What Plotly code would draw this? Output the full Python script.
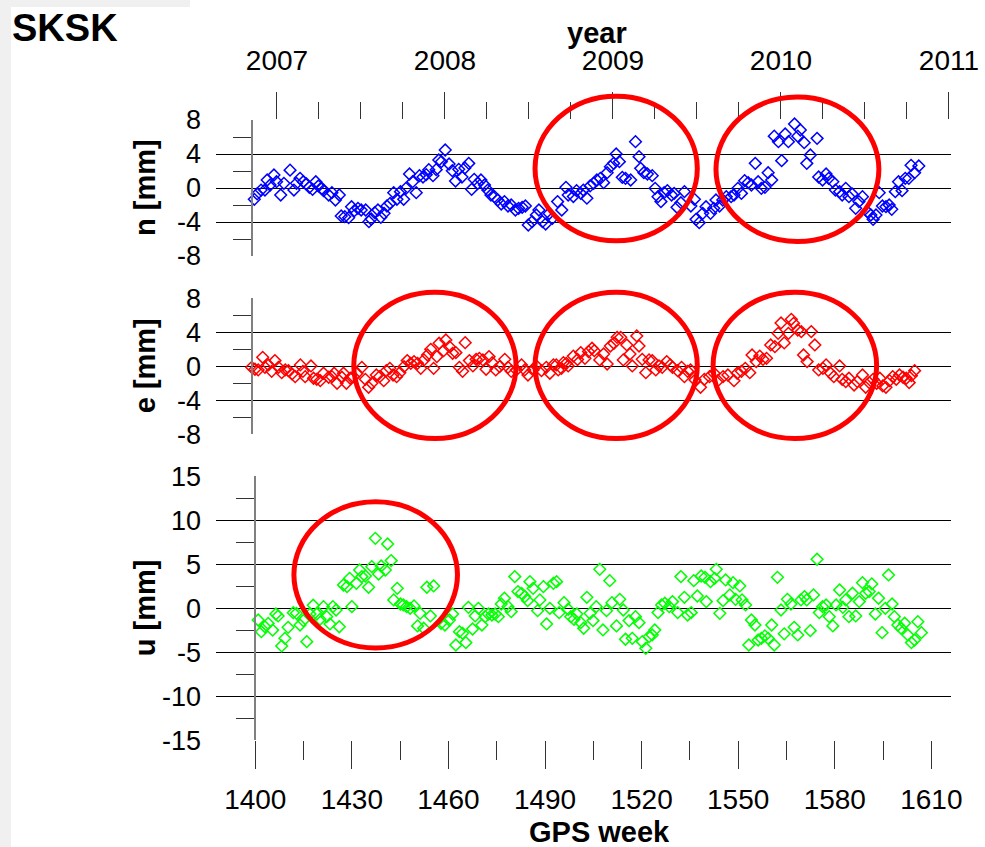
import plotly.graph_objects as go

# ---------------- data ----------------
n_weeks = [1399.7, 1400.6, 1401.8, 1403.0, 1403.7, 1404.6, 1405.8, 1406.6, 1407.9, 1408.9,
           1410.8, 1412.0, 1412.8, 1413.9, 1414.9, 1415.9, 1416.8, 1417.8, 1418.8, 1419.6,
           1420.7, 1421.2, 1422.8, 1423.8, 1424.9, 1426.1, 1426.7, 1427.8, 1429.0, 1429.9,
           1430.8, 1431.9, 1432.9, 1434.3, 1435.3, 1436.0, 1437.1, 1438.1, 1439.0, 1440.0,
           1440.9, 1441.9, 1443.0, 1444.0, 1445.1, 1446.1, 1446.8, 1447.9, 1448.9, 1450.0,
           1451.0, 1452.1, 1453.1, 1453.9, 1455.2, 1456.2, 1457.0, 1457.8, 1459.0, 1460.2,
           1461.2, 1462.2, 1463.2, 1464.2, 1465.1, 1466.3, 1467.2, 1468.0, 1469.1, 1470.1,
           1471.2, 1472.2, 1473.2, 1474.3, 1475.3, 1476.4, 1477.4, 1478.5, 1479.5, 1480.8,
           1481.8, 1482.9, 1483.9, 1484.8, 1486.0, 1487.3, 1488.1, 1489.2, 1490.2, 1491.3,
           1492.3, 1493.9, 1495.2, 1496.5, 1497.2, 1498.8, 1499.8, 1501.1, 1501.9, 1503.0,
           1504.0, 1505.1, 1506.1, 1507.2, 1508.2, 1509.3, 1510.3, 1511.3, 1512.1, 1513.1,
           1514.0, 1515.0, 1516.6, 1518.1, 1519.2, 1519.7, 1520.7, 1521.8, 1523.3, 1524.2,
           1525.1, 1526.0, 1527.0, 1528.0, 1529.3, 1530.1, 1531.0, 1532.2, 1533.3, 1535.3,
           1536.4, 1536.9, 1537.9, 1539.0, 1540.0, 1541.4, 1542.4, 1543.1, 1544.2, 1545.2,
           1546.3, 1547.8, 1548.7, 1549.9, 1551.0, 1552.0, 1553.1, 1554.1, 1555.3, 1556.2,
           1557.2, 1558.3, 1559.3, 1560.4, 1561.2, 1562.5, 1563.5, 1564.6, 1565.6, 1566.5,
           1567.5, 1568.5, 1569.3, 1570.5, 1571.3, 1572.4, 1573.4, 1574.5, 1575.0, 1576.2,
           1577.3, 1578.1, 1579.4, 1580.2, 1581.5, 1582.3, 1583.4, 1584.4, 1585.4, 1586.5,
           1587.5, 1588.6, 1590.1, 1591.2, 1591.9, 1592.8, 1593.8, 1594.8, 1595.9, 1596.9,
           1597.7, 1598.8, 1599.8, 1600.9, 1601.9, 1603.0, 1603.7, 1604.8, 1606.1]
n_mm = [-1.33, -0.70, -0.24, -0.24, 0.94, 0.35, 1.53, 0.74, -0.82, 0.55,
        2.10, -0.24, 0.55, 1.14, 0.74, 0.47, 0.08, -0.16, 0.74, 0.24,
        -0.04, -0.31, -0.82, -0.55, -1.41, -0.82, -3.29, -3.37, -3.49, -2.20,
        -2.67, -2.39, -2.59, -2.59, -3.96, -3.65, -2.90, -2.59, -3.45, -2.98,
        -2.12, -1.80, -0.55, -1.33, -0.43, -1.33, -0.04, 1.65, 0.74, -0.55,
        1.45, 1.29, 1.57, 2.16, 1.45, 2.16, 3.29, 3.10, 4.47, 2.82,
        2.04, 0.82, 2.20, 1.29, 2.35, 2.90, -0.16, 1.02, 0.55, 0.94,
        0.35, -0.24, -0.82, -1.02, -1.41, -1.88, -1.60, -2.12, -2.00, -2.59,
        -2.39, -2.27, -2.12, -4.35, -3.96, -3.18, -2.59, -3.96, -4.24, -3.00,
        -3.57, -1.60, -2.59, 0.08, -0.82, -1.00, -0.31, -0.63, -0.24, -1.20,
        0.24, 0.55, 0.94, 1.14, 0.63, 1.80, 2.51, 2.90, 4.00, 3.10,
        1.25, 1.14, 0.94, 5.45, 3.69, 2.31, 1.80, 1.65, 1.45, -0.04,
        -1.02, -1.60, -0.55, -0.31, -0.82, -0.63, -2.27, -1.73, -0.43, -2.12,
        -1.33, -3.69, -4.08, -2.98, -2.20, -2.98, -2.39, -1.41, -2.12, -1.41,
        -1.02, -1.02, -0.82, -0.04, -0.63, 0.86, 0.63, 0.35, 2.90, 0.74,
        -0.04, 0.08, 1.80, 0.94, 6.10, 5.45, 3.22, 6.35, 5.45, 8.20,
        7.53, 6.10, 6.82, 5.33, 2.90, 3.88, 8.47, 5.84, 1.29, 0.94,
        1.65, 1.14, 0.74, -0.24, -0.43, -0.82, -0.04, -1.02, -0.71, -2.39,
        -1.60, -1.02, -2.78, -3.18, -3.69, -3.18, -0.55, -2.12, -2.20, -2.00,
        -2.51, -0.43, 0.74, -0.31, 1.14, 1.14, 2.67, 1.80, 2.59]

e_weeks = [1398.9, 1399.9, 1400.9, 1402.3, 1403.0, 1404.1, 1405.1, 1406.1, 1407.2, 1408.2,
           1409.3, 1410.3, 1411.4, 1412.4, 1414.0, 1414.8, 1415.5, 1417.3, 1418.1, 1419.1,
           1420.2, 1421.2, 1422.8, 1423.8, 1424.5, 1425.4, 1426.9, 1427.4, 1428.3, 1429.5,
           1430.5, 1431.6, 1433.1, 1434.2, 1435.2, 1436.2, 1437.6, 1438.6, 1439.9, 1440.7,
           1441.8, 1442.8, 1443.9, 1444.9, 1446.2, 1447.2, 1448.3, 1449.3, 1450.4, 1451.4,
           1452.4, 1453.5, 1454.5, 1455.4, 1456.4, 1457.1, 1458.5, 1459.2, 1460.3, 1461.3,
           1462.3, 1463.4, 1464.4, 1465.2, 1466.5, 1467.6, 1468.6, 1469.6, 1470.7, 1471.7,
           1472.6, 1473.6, 1474.7, 1475.9, 1477.5, 1478.5, 1479.5, 1481.1, 1482.7, 1483.7,
           1484.7, 1486.3, 1487.3, 1488.9, 1490.4, 1491.5, 1492.6, 1493.5, 1494.1, 1495.1,
           1495.7, 1496.6, 1497.2, 1498.8, 1500.1, 1501.1, 1502.4, 1503.5, 1504.6, 1505.3,
           1507.0, 1508.2, 1509.3, 1510.3, 1511.4, 1512.4, 1513.5, 1514.3, 1515.4, 1516.4,
           1517.1, 1518.5, 1519.2, 1520.2, 1521.3, 1522.3, 1523.3, 1524.4, 1525.4, 1526.4,
           1527.8, 1528.9, 1529.6, 1531.2, 1532.4, 1533.3, 1534.3, 1535.2, 1536.6, 1538.3,
           1539.5, 1541.1, 1542.5, 1543.7, 1545.3, 1546.8, 1548.7, 1549.7, 1551.0, 1552.2,
           1553.6, 1554.3, 1555.6, 1556.7, 1557.7, 1558.8, 1560.1, 1561.4, 1562.4, 1563.3,
           1564.3, 1565.6, 1566.5, 1567.2, 1568.5, 1569.6, 1570.3, 1571.4, 1572.7, 1573.8,
           1575.0, 1576.3, 1577.3, 1578.7, 1579.7, 1581.5, 1582.3, 1583.4, 1584.4, 1586.0,
           1587.0, 1588.6, 1589.6, 1590.7, 1591.9, 1593.0, 1594.0, 1594.9, 1595.9, 1597.0,
           1598.0, 1599.1, 1600.1, 1601.2, 1602.2, 1603.1, 1603.8, 1604.8]
e_mm = [-0.12, -0.35, -0.43, 1.06, -0.12, 0.16, -0.59, 0.67, -0.12, -0.75,
        -0.43, -0.51, -0.90, -1.22, 0.16, -0.59, -1.22, 0.04, -1.41, -1.53,
        -1.69, -0.82, -1.29, -1.22, -0.82, -2.00, -1.29, -0.82, -2.00, -1.41,
        -1.22, -0.82, -0.12, -1.53, -2.47, -2.00, -1.02, -1.22, -1.69, -0.51,
        -0.24, -1.02, -1.22, -0.75, -0.04, 0.67, 0.35, 0.55, 0.35, -0.24,
        0.75, 1.33, 2.00, -0.24, 1.14, 2.71, 1.84, 3.10, 2.31, 1.53,
        1.61, -0.12, -0.59, 2.78, 0.67, 0.04, 0.82, 0.94, 0.75, -0.35,
        1.14, 0.43, -0.43, -0.04, 0.82, -0.12, -0.59, -0.43, 0.16, -0.43,
        -1.02, -0.43, 0.04, -0.51, -0.12, -0.82, 0.16, 0.16, -0.43, -0.24,
        0.43, 0.35, 0.04, 1.20, 0.80, 1.61, 0.94, 1.73, 2.12, 1.84,
        0.75, 1.45, 0.27, 2.39, 2.71, 3.41, 3.41, 0.75, 2.51, 1.45,
        0.04, 3.57, 2.39, 0.82, -0.75, 0.75, 0.67, -0.43, 0.04, -0.12,
        0.55, 0.16, -0.12, -0.51, -0.12, -1.22, -0.59, -0.43, -1.61, -2.47,
        -1.53, -1.22, -0.82, -1.69, -1.22, -1.02, -1.69, -0.82, -0.59, -0.24,
        -0.75, 1.33, 0.55, 1.20, 0.82, 0.94, 2.51, 2.31, 3.88, 5.10,
        2.75, 3.88, 5.53, 5.06, 4.27, 4.08, 1.33, 0.55, 4.08, 2.51,
        -0.43, -0.24, 0.16, -0.82, -1.22, 0.04, -1.53, -1.80, -1.41, -2.20,
        -1.80, -1.02, -2.47, -1.92, -1.53, -2.00, -1.41, -2.31, -2.47, -1.69,
        -1.22, -1.53, -1.02, -1.29, -1.41, -1.92, -1.10, -0.51]

u_weeks = [1400.9, 1401.9, 1403.0, 1404.0, 1405.4, 1406.4, 1407.1, 1408.2, 1409.2, 1410.2,
           1411.8, 1412.8, 1413.9, 1414.9, 1416.0, 1417.0, 1418.0, 1419.1, 1420.1, 1421.2,
           1422.2, 1423.2, 1424.1, 1425.1, 1426.1, 1427.4, 1428.5, 1429.3, 1430.0, 1431.4,
           1432.4, 1433.1, 1434.2, 1435.2, 1436.2, 1437.3, 1438.3, 1439.1, 1440.4, 1441.1,
           1442.2, 1443.0, 1444.1, 1445.1, 1446.0, 1447.0, 1448.1, 1449.3, 1450.4, 1451.2,
           1452.3, 1453.3, 1454.4, 1455.4, 1457.7, 1458.9, 1460.3, 1461.3, 1462.3, 1463.4,
           1464.4, 1465.4, 1466.2, 1467.5, 1468.3, 1469.3, 1470.4, 1471.4, 1472.4, 1473.5,
           1474.5, 1475.5, 1476.4, 1477.4, 1478.5, 1479.5, 1480.6, 1481.6, 1482.7, 1483.7,
           1484.6, 1485.3, 1486.3, 1487.7, 1488.4, 1489.5, 1490.5, 1491.5, 1492.6, 1493.6,
           1494.4, 1495.9, 1497.2, 1498.0, 1499.0, 1499.9, 1501.1, 1502.0, 1503.0, 1504.0,
           1504.9, 1505.9, 1507.0, 1508.0, 1509.1, 1510.1, 1510.8, 1512.2, 1513.2, 1514.3,
           1515.0, 1516.1, 1517.1, 1518.1, 1519.2, 1520.2, 1521.3, 1522.3, 1523.3, 1524.1,
           1525.1, 1526.2, 1527.2, 1528.6, 1529.6, 1531.2, 1532.2, 1533.3, 1534.3, 1535.4,
           1536.2, 1537.3, 1538.5, 1539.7, 1540.1, 1541.4, 1542.7, 1543.2, 1544.3, 1545.3,
           1546.1, 1547.4, 1548.4, 1549.2, 1550.5, 1551.2, 1552.3, 1553.3, 1554.1, 1555.2,
           1556.2, 1557.2, 1558.3, 1559.3, 1560.4, 1561.2, 1562.2, 1563.3, 1564.3, 1565.3,
           1566.4, 1567.4, 1568.5, 1569.5, 1570.6, 1571.3, 1572.4, 1573.4, 1574.5, 1575.2,
           1576.2, 1577.3, 1578.3, 1579.4, 1580.4, 1581.5, 1582.5, 1583.4, 1584.4, 1585.5,
           1586.5, 1587.6, 1588.6, 1589.6, 1590.7, 1591.5, 1592.6, 1593.6, 1594.7, 1595.7,
           1596.7, 1597.8, 1598.5, 1599.6, 1600.6, 1601.7, 1602.7, 1603.8, 1604.8, 1605.8,
           1606.9]
u_mm = [-1.33, -2.66, -2.10, -1.72, -2.48, -0.65, -0.87, -4.28, -3.41, -2.16,
        -0.50, -0.57, -1.90, -1.40, -3.79, -0.65, 0.35, -0.65, -1.25, 0.19,
        -0.95, -1.78, 0.19, -0.19, -2.10, 2.65, 2.46, 3.41, 0.19, 2.84,
        4.35, 3.60, 3.67, 2.39, 4.73, 7.95, 3.90, 4.81, 4.35, 7.31,
        5.42, 0.95, 2.27, 0.49, 0.38, 0.19, 0.00, 0.27, -2.00, -0.57,
        -2.27, 2.39, -0.87, 2.54, -1.70, -1.90, -1.33, -0.65, -4.17, -2.66,
        -2.84, -3.90, 0.11, -2.35, -0.87, 0.00, -1.90, -0.95, -0.65, -0.76,
        -0.65, -0.95, 0.49, 1.14, 0.19, -0.38, 3.60, 1.90, 1.70, 1.33,
        0.87, 3.03, 2.27, -0.27, 0.95, 2.46, -1.78, 0.00, 2.84, 3.03,
        -0.50, 0.64, -0.11, -0.95, -1.25, -0.65, -1.63, -2.27, 1.25, -0.57,
        -1.40, 0.19, 4.43, -2.46, -0.27, 3.14, 0.64, -2.00, 1.02, -0.19,
        -3.52, -1.40, -3.41, -0.95, -1.63, -3.79, -4.55, -3.22, -3.03, -2.46,
        -0.49, 0.38, 0.57, 0.19, 0.76, -0.49, 3.60, 1.25, -0.76, -0.49,
        3.14, 1.40, 3.67, 3.52, 0.76, 3.03, 3.41, 4.43, -0.57, 0.87,
        3.22, 1.52, 2.91, 1.02, 2.54, 0.95, 0.38, -4.17, -1.33, -1.90,
        -3.60, -3.41, -3.14, -3.41, -1.90, -4.17, 3.52, -0.19, -2.90, 1.02,
        0.49, -2.16, -3.03, 0.95, 1.33, 0.95, -2.54, 1.52, 5.57, -0.49,
        0.19, 0.38, -0.95, -2.00, 0.38, 2.08, 0.11, 0.95, -0.95, 1.71,
        -0.87, 0.76, 2.91, 1.71, 1.90, 2.77, -0.65, 1.14, -2.77, 0.00,
        3.79, 0.49, -0.95, -1.90, -2.27, -1.70, -3.03, -3.90, -3.60, -1.52,
        -2.77]

year_ticks = [2007, 2008, 2009, 2010, 2011]
week_ticks = [1400, 1430, 1460, 1490, 1520, 1550, 1580, 1610]
ne_ticks = [-8, -4, 0, 4, 8]
u_ticks = [-15, -10, -5, 0, 5, 10, 15]

# highlighted regions (panel, centre week, centre mm, half-width weeks, half-height mm)
highlights = [("n", 1512.1, 2.3, 25.2, 8.5), ("n", 1568.4, 2.2, 25.3, 8.5),
              ("e", 1455.8, 0.1, 25.2, 8.6), ("e", 1512.1, 0.1, 25.2, 8.6),
              ("e", 1567.6, 0.1, 25.4, 8.6), ("u", 1437.4, 3.8, 25.4, 8.3)]

# ---------------- layout constants ----------------
W, H = 985, 847
ML, MR = 216, 34
PW = W - ML - MR
WEEK_RANGE = [1387.8, 1616.1]
YEAR_RANGE = [2006.637, 2011.012]
NE_RANGE = [-8, 8]
U_RANGE = [-15, 15]
D_N = [1 - 256.0 / H, 1 - 120.0 / H]
D_E = [1 - 434.3 / H, 1 - 298.3 / H]
D_U = [1 - 740.3 / H, 1 - 476.3 / H]
FONT = "Liberation Sans, Arial, sans-serif"
TICKF = dict(family=FONT, size=27, color="black")


def px2paper(px):
    return (px - ML) / PW


def labels(vals):
    return [str(v) for v in vals]  # plain hyphen minus, as in the original


fig = go.Figure()
mk = dict(symbol="diamond-open", size=9, line=dict(width=1.5))
fig.add_trace(go.Scatter(x=n_weeks, y=n_mm, mode="markers", xaxis="x", yaxis="y",
                         marker=dict(color="#0000FF", **mk), showlegend=False,
                         cliponaxis=False))
fig.add_trace(go.Scatter(x=e_weeks, y=e_mm, mode="markers", xaxis="x2", yaxis="y2",
                         marker=dict(color="#FF0000", **mk), showlegend=False,
                         cliponaxis=False))
fig.add_trace(go.Scatter(x=u_weeks, y=u_mm, mode="markers", xaxis="x3", yaxis="y3",
                         marker=dict(color="#00FF00", **mk), showlegend=False,
                         cliponaxis=False))
# empty traces to bind the helper axes
for xa, ya in [("x4", "y"), ("x", "y4"), ("x2", "y5"), ("x3", "y6")]:
    fig.add_trace(go.Scatter(x=[None], y=[None], xaxis=xa, yaxis=ya, mode="markers",
                             showlegend=False, hoverinfo="skip"))

hidden_x = dict(range=WEEK_RANGE, showticklabels=False, ticks="", showgrid=False,
                zeroline=False, showline=False, domain=[0, 1])


def yaxis(dom, rng, vals):
    return dict(domain=dom, range=rng, tickmode="array", tickvals=vals,
                ticktext=labels(vals),
                ticks="", showgrid=True, gridcolor="black", gridwidth=1,
                zeroline=False, showline=False, tickfont=TICKF,
                ticklabelstandoff=14)


def minor_axis(over, pos, rng, vals):
    return dict(overlaying=over, anchor="free", position=pos, range=rng,
                tickmode="array", tickvals=vals, ticks="outside", ticklen=18,
                tickcolor="#333", tickwidth=1, showticklabels=False, showgrid=False,
                zeroline=False, showline=True, linecolor="#808080", linewidth=2)


pos_top = px2paper(252.0)
pos_bot = px2paper(255.3)

fig.update_layout(
    width=W, height=H, margin=dict(l=ML, r=MR, t=0, b=0, autoexpand=False),
    paper_bgcolor="white", plot_bgcolor="white",
    xaxis=dict(anchor="y", **hidden_x),
    xaxis2=dict(anchor="y2", **hidden_x),
    xaxis3=dict(anchor="y3", domain=[0, 1], range=WEEK_RANGE, tickmode="array",
                tickvals=week_ticks, ticktext=labels(week_ticks),
                ticks="outside", ticklen=28, tickcolor="#333",
                tickwidth=1, showgrid=False, zeroline=False, showline=False,
                tickfont=dict(family=FONT, size=28, color="black"),
                ticklabelstandoff=6,
                minor=dict(tickmode="array",
                           tickvals=[w + 15 for w in week_ticks[:-1]],
                           ticks="outside", ticklen=19, tickcolor="#333",
                           showgrid=False)),
    xaxis4=dict(overlaying="x", anchor="y", side="top", range=YEAR_RANGE,
                tickmode="array", tickvals=year_ticks, ticktext=labels(year_ticks),
                ticks="outside", ticklen=27,
                tickcolor="#333", tickwidth=1, showgrid=False, zeroline=False,
                showline=False, tickfont=dict(family=FONT, size=28, color="black"),
                ticklabelstandoff=11,
                minor=dict(tickmode="array",
                           tickvals=[y + q for y in year_ticks[:-1] for q in (0.25, 0.5, 0.75)],
                           ticks="outside", ticklen=17, tickcolor="#333",
                           showgrid=False)),
    yaxis=yaxis(D_N, NE_RANGE, ne_ticks),
    yaxis2=yaxis(D_E, NE_RANGE, ne_ticks),
    yaxis3=yaxis(D_U, U_RANGE, u_ticks),
    yaxis4=minor_axis("y", pos_top, NE_RANGE, [-6, -2, 2, 6]),
    yaxis5=minor_axis("y2", pos_top, NE_RANGE, [-6, -2, 2, 6]),
    yaxis6=minor_axis("y3", pos_bot, U_RANGE, [-12.5, -7.5, -2.5, 2.5, 7.5, 12.5]),
)

# titles
titles = [
    ("SKSK", px2paper(10), 1 - 28.0 / H, 0, 38, "left"),
    ("year", px2paper(597), 1 - 33.0 / H, 0, 29, "center"),
    ("GPS week", px2paper(599), 1 - 832.0 / H, 0, 29, "center"),
    ("n [mm]", px2paper(145), sum(D_N) / 2, -90, 29, "center"),
    ("e [mm]", px2paper(145), sum(D_E) / 2, -90, 29, "center"),
    ("u [mm]", px2paper(145), sum(D_U) / 2, -90, 29, "center"),
]
for txt, x, y, ang, sz, xa in titles:
    fig.add_annotation(text="<b>%s</b>" % txt, x=x, y=y, xref="paper", yref="paper",
                       xanchor=xa, yanchor="middle", showarrow=False, textangle=ang,
                       font=dict(family=FONT, size=sz, color="black"))

# highlight circles, converted from data units to paper coordinates
panels = {"n": (D_N, NE_RANGE), "e": (D_E, NE_RANGE), "u": (D_U, U_RANGE)}


def wx(w):
    return (w - WEEK_RANGE[0]) / (WEEK_RANGE[1] - WEEK_RANGE[0])


def vy(v, dom, rng):
    return dom[0] + (v - rng[0]) / (rng[1] - rng[0]) * (dom[1] - dom[0])


for p, cw, cv, hw, hv in highlights:
    dom, rng = panels[p]
    fig.add_shape(type="circle", xref="paper", yref="paper",
                  x0=wx(cw - hw), x1=wx(cw + hw),
                  y0=vy(cv - hv, dom, rng), y1=vy(cv + hv, dom, rng),
                  line=dict(color="#FF0000", width=5), layer="above")

# faint strip at the left edge of the page
fig.add_shape(type="rect", xref="paper", yref="paper", x0=px2paper(0), x1=px2paper(11),
              y0=0, y1=1 - 7.0 / H, fillcolor="#f0f0f0", line=dict(width=0), layer="below")
fig.add_shape(type="rect", xref="paper", yref="paper", x0=px2paper(0), x1=px2paper(190),
              y0=1 - 7.0 / H, y1=1, fillcolor="#f0f0f0", line=dict(width=0), layer="below")

fig.write_html("out.html", config={"displayModeBar": False},
               post_script="document.body.style.margin='0px';document.body.style.overflow='hidden';")
